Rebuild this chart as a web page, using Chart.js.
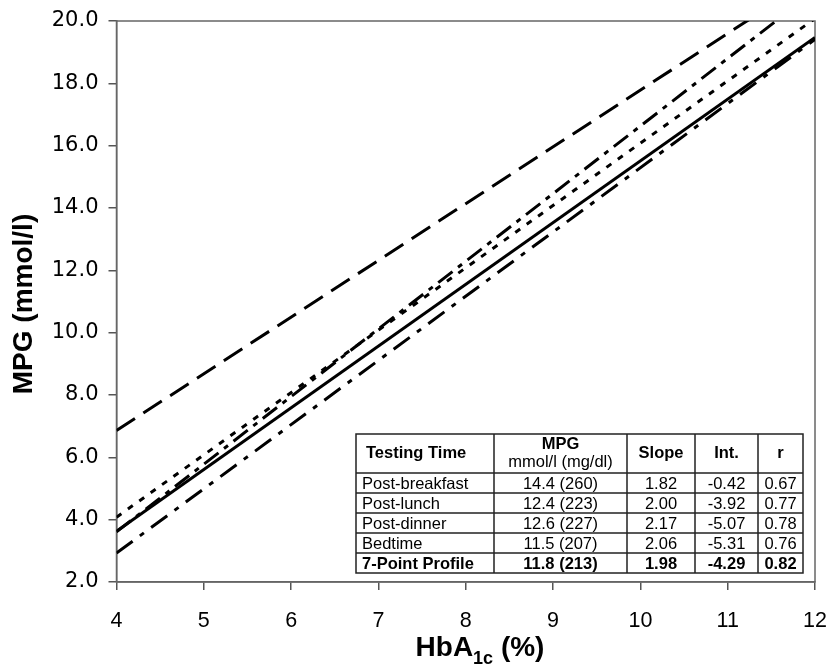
<!DOCTYPE html>
<html>
<head>
<meta charset="utf-8">
<script src="https://cdn.jsdelivr.net/npm/chart.js@4.4.1/dist/chart.umd.min.js"></script>
<style>
  html, body { margin: 0; padding: 0; background: #fff; }
  #wrap { width: 826px; height: 668px; }
</style>
</head>
<body>
<div id="wrap"><canvas id="mpg" width="826" height="668"></canvas></div>
<script>
// regression lines, read at both ends of the x range (HbA1c 4 and 12)
const xEnds = [4, 12];
const seriesNames = ['Post-breakfast', 'Post-lunch', 'Post-dinner', 'Bedtime', '7-Point Profile'];
const postBreakfast = [6.86, 21.42];
const postLunch = [4.08, 20.08];
const postDinner = [3.61, 20.97];
const bedtime = [2.93, 19.41];
const sevenPoint = [3.63, 19.47];

// table in the lower right corner
const tableHeader = ['Testing Time', 'MPG', 'Slope', 'Int.', 'r'];
const tableMpg = ['14.4 (260)', '12.4 (223)', '12.6 (227)', '11.5 (207)', '11.8 (213)'];
const tableSlope = ['1.82', '2.00', '2.17', '2.06', '1.98'];
const tableInt = ['-0.42', '-3.92', '-5.07', '-5.31', '-4.29'];
const tableR = ['0.67', '0.77', '0.78', '0.76', '0.82'];

const xTicks = [4, 5, 6, 7, 8, 9, 10, 11, 12];
const yTicks = [2, 4, 6, 8, 10, 12, 14, 16, 18, 20];

const toPoints = ys => ys.map((y, i) => ({ x: xEnds[i], y: y }));

const styles = [
  [22, 10],          // post-breakfast, long dash
  [6, 8],            // post-lunch, short dash
  [18, 7, 5, 7],     // post-dinner, dash-dot
  [20, 9, 5, 9],     // bedtime, dash-dot
  []                 // 7-point, solid
];
const allSeries = [postBreakfast, postLunch, postDinner, bedtime, sevenPoint];

const extras = {
  id: 'extras',
  beforeDatasetsDraw(chart) {
    const { ctx, chartArea: a } = chart;
    ctx.save();
    ctx.strokeStyle = '#666';
    ctx.lineWidth = 1.5;
    ctx.strokeRect(a.left, a.top, a.right - a.left, a.bottom - a.top);
    ctx.restore();
  },
  afterDraw(chart) {
    const ctx = chart.ctx;
    ctx.save();
    ctx.fillStyle = '#000';

    // y title
    ctx.save();
    ctx.translate(24, 304);
    ctx.rotate(-Math.PI / 2);
    ctx.font = 'bold 28px "Liberation Sans", Arial, sans-serif';
    ctx.textAlign = 'center';
    ctx.textBaseline = 'middle';
    ctx.fillText('MPG (mmol/l)', 0, 0);
    ctx.restore();

    // x title with subscript
    ctx.textBaseline = 'alphabetic';
    ctx.textAlign = 'left';
    const big = 'bold 28px "Liberation Sans", Arial, sans-serif';
    const small = 'bold 18px "Liberation Sans", Arial, sans-serif';
    ctx.font = big;
    const w1 = ctx.measureText('HbA').width;
    const w3 = ctx.measureText(' (%)').width;
    ctx.font = small;
    const w2 = ctx.measureText('1c').width;
    let x = 480 - (w1 + w2 + w3) / 2;
    ctx.font = big;
    ctx.fillText('HbA', x, 656);
    x += w1;
    ctx.font = small;
    ctx.fillText('1c', x, 664);
    x += w2;
    ctx.font = big;
    ctx.fillText(' (%)', x, 656);

    // table
    const cols = [356, 494, 627, 695, 758, 803];
    const rows = [434, 473, 493, 513, 533, 553, 573];
    ctx.fillStyle = '#fff';
    ctx.fillRect(cols[0], rows[0], cols[5] - cols[0], rows[6] - rows[0]);
    ctx.strokeStyle = '#222';
    ctx.lineWidth = 1.5;
    ctx.strokeRect(cols[0], rows[0], cols[5] - cols[0], rows[6] - rows[0]);
    ctx.beginPath();
    cols.slice(1, 5).forEach(c => { ctx.moveTo(c, rows[0]); ctx.lineTo(c, rows[6]); });
    rows.slice(1, 6).forEach(r => { ctx.moveTo(cols[0], r); ctx.lineTo(cols[5], r); });
    ctx.stroke();

    ctx.fillStyle = '#000';
    ctx.textBaseline = 'middle';
    const reg = '16.5px "Liberation Sans", Arial, sans-serif';
    const bold = 'bold 16.5px "Liberation Sans", Arial, sans-serif';
    const mid = i => (cols[i] + cols[i + 1]) / 2;
    const hy = (rows[0] + rows[1]) / 2;

    ctx.font = bold;
    ctx.textAlign = 'left';
    ctx.fillText(tableHeader[0], 366, hy);
    ctx.textAlign = 'center';
    ctx.fillText(tableHeader[1], mid(1), hy - 9);
    ctx.font = reg;
    ctx.fillText('mmol/l (mg/dl)', mid(1), hy + 9);
    ctx.font = bold;
    ctx.fillText(tableHeader[2], mid(2), hy);
    ctx.fillText(tableHeader[3], mid(3), hy);
    ctx.fillText(tableHeader[4], mid(4), hy);

    seriesNames.forEach((name, i) => {
      const y = (rows[i + 1] + rows[i + 2]) / 2 + 1;
      ctx.font = i === 4 ? bold : reg;
      ctx.textAlign = 'left';
      ctx.fillText(name, 362, y);
      ctx.textAlign = 'center';
      ctx.fillText(tableMpg[i], mid(1), y);
      ctx.fillText(tableSlope[i], mid(2), y);
      ctx.fillText(tableInt[i], mid(3), y);
      ctx.fillText(tableR[i], mid(4), y);
    });
    ctx.restore();
  }
};

new Chart(document.getElementById('mpg'), {
  type: 'scatter',
  data: {
    datasets: allSeries.map((s, i) => ({
      label: seriesNames[i],
      data: toPoints(s),
      showLine: true,
      borderColor: '#000',
      borderWidth: 3,
      borderDash: styles[i],
      pointRadius: 0,
      fill: false
    }))
  },
  options: {
    responsive: false,
    animation: false,
    layout: { padding: { top: 21, right: 11, left: 0, bottom: 0 } },
    plugins: { legend: { display: false }, tooltip: { enabled: false } },
    scales: {
      x: {
        type: 'linear',
        min: 4,
        max: 12,
        afterBuildTicks: s => { s.ticks = xTicks.map(v => ({ value: v })); },
        afterFit: s => { s.height = 86; s.paddingRight = 0; s.paddingLeft = 0; },
        ticks: {
          color: '#000',
          padding: 18,
          font: { family: '"Liberation Sans", Arial, sans-serif', size: 21.5 }
        },
        grid: { drawOnChartArea: false, tickLength: 8, color: '#555', lineWidth: 1.5 },
        border: { color: '#666', width: 1.5 }
      },
      y: {
        min: 2,
        max: 20,
        afterBuildTicks: s => { s.ticks = yTicks.map(v => ({ value: v })); },
        afterFit: s => { s.width = 116.5; s.paddingTop = 0; s.paddingBottom = 0; },
        ticks: {
          color: '#000',
          padding: 10,
          callback: v => v.toFixed(1),
          font: { family: '"DejaVu Sans", sans-serif', size: 21 }
        },
        grid: { drawOnChartArea: false, tickLength: 8, color: '#555', lineWidth: 1.5 },
        border: { color: '#666', width: 1.5 }
      }
    }
  },
  plugins: [extras]
});
</script>
</body>
</html>
